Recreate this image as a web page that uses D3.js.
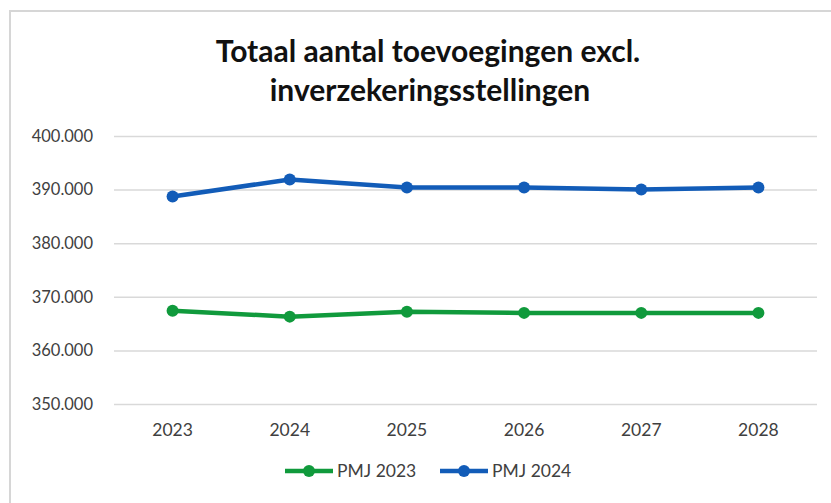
<!DOCTYPE html>
<html>
<head>
<meta charset="utf-8">
<script src="https://cdn.jsdelivr.net/npm/d3@7"></script>
<style>
  body { margin: 0; background: #fff; }
  svg { display: block; font-family: Lato, "Open Sans", sans-serif; }
</style>
</head>
<body>
<svg id="chart" width="831" height="503"></svg>
<script>
let years = ["2023", "2024", "2025", "2026", "2027", "2028"];
let pmj2023 = [367400, 366300, 367200, 367000, 367000, 367000];
let pmj2024 = [388700, 391900, 390400, 390400, 390000, 390400];
let yTicks = [350000, 360000, 370000, 380000, 390000, 400000];
let seriesNames = ["PMJ 2023", "PMJ 2024"];
let seriesColors = ["#109a3c", "#125cb8"];

let svg = d3.select("#chart");
let margin = { left: 114, right: 14, top: 136, bottom: 99 };
let width = 831, height = 503;

// chart frame
svg.append("rect")
  .attr("x", 10).attr("y", 11)
  .attr("width", 840).attr("height", 520)
  .attr("fill", "none").attr("stroke", "#d6d6d6").attr("stroke-width", 2);

svg.append("text")
  .attr("x", 428).attr("y", 62)
  .attr("text-anchor", "middle")
  .attr("font-size", 30).attr("font-weight", "bold").attr("fill", "#111")
  .text("Totaal aantal toevoegingen excl.");
svg.append("text")
  .attr("x", 430).attr("y", 101)
  .attr("text-anchor", "middle")
  .attr("font-size", 30).attr("font-weight", "bold").attr("fill", "#111")
  .text("inverzekeringsstellingen");

let x = d3.scaleBand().domain(years)
  .range([margin.left, width - margin.right]);
let y = d3.scaleLinear().domain([350000, 400000])
  .range([height - margin.bottom, margin.top]);

let fmt = v => d3.format(",")(v).replace(/,/g, ".");

// gridlines + y labels
let yAxis = d3.axisLeft(y).tickValues(yTicks).tickFormat(fmt)
  .tickSize(-(width - margin.left - margin.right)).tickPadding(21);
let gy = svg.append("g").attr("transform", `translate(${margin.left},0)`).call(yAxis);
gy.select(".domain").remove();
gy.selectAll(".tick line").attr("stroke", "#d9d9d9").attr("stroke-width", 1.5);
gy.selectAll(".tick text").attr("font-size", 16.5).attr("fill", "#404040")
  .attr("font-family", "Lato, 'Open Sans', sans-serif");

let xAxis = d3.axisBottom(x).tickSize(0).tickPadding(20);
let gx = svg.append("g").attr("transform", `translate(0,${height - margin.bottom})`).call(xAxis);
gx.select(".domain").remove();
gx.selectAll(".tick text").attr("font-size", 17.5).attr("fill", "#404040")
  .attr("font-family", "Lato, 'Open Sans', sans-serif");

let cx = d => x(d) + x.bandwidth() / 2;
let line = d3.line().x((d, i) => cx(years[i])).y(d => y(d));

[pmj2023, pmj2024].forEach((vals, k) => {
  svg.append("path").datum(vals)
    .attr("d", line).attr("fill", "none")
    .attr("stroke", seriesColors[k]).attr("stroke-width", 4.5)
    .attr("stroke-linejoin", "round");
  svg.append("g").selectAll("circle").data(vals).enter().append("circle")
    .attr("cx", (d, i) => cx(years[i])).attr("cy", d => y(d))
    .attr("r", 6).attr("fill", seriesColors[k]);
});

// legend
let legendX = [285, 440];
seriesNames.forEach((name, k) => {
  let g = svg.append("g").attr("transform", `translate(${legendX[k]},471)`);
  g.append("line").attr("x1", 0).attr("x2", 48).attr("y1", 0).attr("y2", 0)
    .attr("stroke", seriesColors[k]).attr("stroke-width", 4.5);
  g.append("circle").attr("cx", 24).attr("cy", 0).attr("r", 6).attr("fill", seriesColors[k]);
  g.append("text").attr("x", 52).attr("y", 6)
    .attr("font-size", 17.5).attr("fill", "#404040").text(name);
});
</script>
</body>
</html>
